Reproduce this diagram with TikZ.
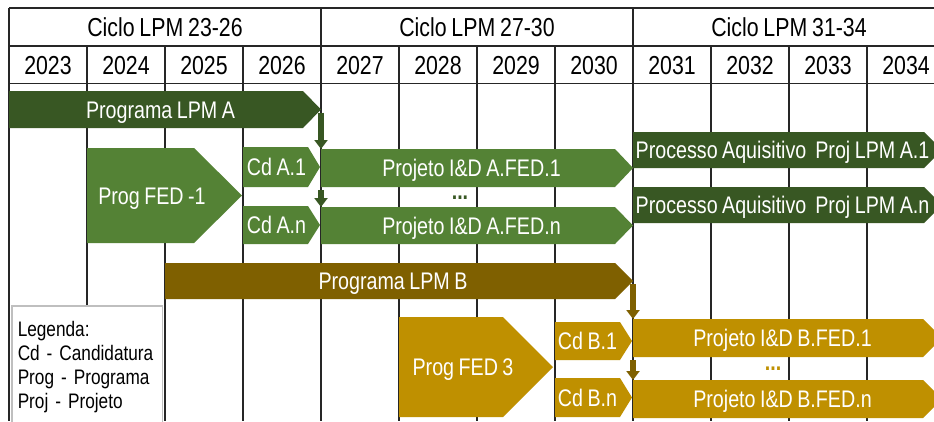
\documentclass[tikz,border=0pt]{standalone}
\usepackage{fontspec}
\setmainfont[FakeStretch=0.82, WordSpace=0.82]{Liberation Sans}
\usetikzlibrary{arrows.meta}

\definecolor{verdeesc}{HTML}{385723}
\definecolor{verde}{HTML}{548235}
\definecolor{castanho}{HTML}{7F6000}
\definecolor{ouro}{HTML}{BF9000}
\definecolor{grelha}{HTML}{262626}
\definecolor{cinza}{HTML}{BFBFBF}

\tikzset{
	linha/.style={draw=grelha, line width=1.4pt},
	cab/.style={font=\fontsize{26}{30}\selectfont, text height=18.6pt, text depth=0pt},
	% barra em seta: cor, comprimento da ponta
	barra/.style 2 args={rectangle, inner sep=0pt, outer sep=0pt, anchor=north west,
		text=white, font=\fontsize{24}{28}\selectfont, text height=17.2pt, text depth=0pt,
		path picture={\fill[#1] (path picture bounding box.north west)
			-- ([xshift=-#2]path picture bounding box.north east)
			-- (path picture bounding box.east)
			-- ([xshift=-#2]path picture bounding box.south east)
			-- (path picture bounding box.south west) -- cycle;}},
	desvio/.style={execute at begin node={\hspace*{#1}}},
	desce/.style={line width=5.5pt, -{Triangle[width=13pt,length=9pt]}, shorten <=3pt}
}

\begin{document}
\begin{tikzpicture}[x=1pt, y=-1pt]
		\useasboundingbox (0,0) rectangle (934,421);
		\fill[white] (0,0) rectangle (934,421);
		\clip (0,0) rectangle (934,421);
		
		% grelha dos anos
		\draw[linha] (9,8) -- (934,8) (9,46) -- (934,46) (9,83.5) -- (934,83.5);
		\foreach \x in {9,321,633}
			\draw[linha] (\x,8) -- (\x,421);
		\foreach \x in {87,165,243,399,477,555,711,789,867}
			\draw[linha] (\x,46) -- (\x,421);
		
		\node[cab] (ciclo1) at (165,27) {Ciclo LPM 23-26};
		\node[cab] (ciclo2) at (477,27) {Ciclo LPM 27-30};
		\node[cab] (ciclo3) at (789,27) {Ciclo LPM 31-34};
		\foreach \ano [count=\i from 0] in {2023,...,2034}
			\node[cab] (a\ano) at ({48+78*\i},65) {\ano};
		
		% programa A
		\node[barra={verdeesc}{18pt}, minimum width=312pt, minimum height=37pt, desvio=-9pt] (lpmA) at (9,91) {Programa LPM A};
		\node[barra={verde}{48pt}, minimum width=155pt, minimum height=95pt, desvio=-25pt] (fedA) at (87,148) {Prog FED -1};
		\node[barra={verde}{12pt}, minimum width=77pt, minimum height=40pt, desvio=-10pt] (cdA1) at (243,147) {Cd A.1};
		\node[barra={verde}{12pt}, minimum width=77pt, minimum height=38pt, desvio=-10pt] (cdAn) at (243,206) {Cd A.n};
		\node[barra={verde}{18pt}, minimum width=312pt, minimum height=38pt, desvio=-11pt] (projA1) at (321,149) {Projeto I\&D A.FED.1};
		\node[barra={verde}{18pt}, minimum width=312pt, minimum height=37pt, desvio=-11pt] (projAn) at (321,207) {Projeto I\&D A.FED.n};
		\node[barra={verdeesc}{18pt}, minimum width=309pt, minimum height=36pt, desvio=-10pt] (procA1) at (633,132) {Processo Aquisitivo~~Proj LPM A.1};
		\node[barra={verdeesc}{18pt}, minimum width=309pt, minimum height=36pt, desvio=-10pt] (procAn) at (633,187) {Processo Aquisitivo~~Proj LPM A.n};
		\node[font=\bfseries\fontsize{24}{28}\selectfont, text=verdeesc, anchor=base] (pontosA) at (460,199) {...};
		
		% programa B
		\node[barra={castanho}{18pt}, minimum width=468pt, minimum height=36pt, desvio=-12pt] (lpmB) at (165,263) {Programa LPM B};
		\node[barra={ouro}{50pt}, minimum width=154pt, minimum height=100pt, desvio=-26pt] (fedB) at (399,317) {Prog FED 3};
		\node[barra={ouro}{12pt}, minimum width=77pt, minimum height=38pt, desvio=-12pt] (cdB1) at (555,322) {Cd B.1};
		\node[barra={ouro}{12pt}, minimum width=77pt, minimum height=39pt, desvio=-12pt] (cdBn) at (555,378) {Cd B.n};
		\node[barra={ouro}{19pt}, minimum width=309pt, minimum height=38pt, desvio=-10pt] (projB1) at (633,319) {Projeto I\&D B.FED.1};
		\node[barra={ouro}{19pt}, minimum width=309pt, minimum height=38pt, desvio=-10pt] (projBn) at (633,380) {Projeto I\&D B.FED.n};
		\node[font=\bfseries\fontsize{24}{28}\selectfont, text=ouro, anchor=base] (pontosB) at (773,370) {...};
		
		\draw[desce, verdeesc] (lpmA.east) -- (projA1.north west);
		\draw[desce, verdeesc] (projA1.south west) -- (projAn.north west);
		\draw[desce, castanho] (lpmB.east) -- (projB1.north west);
		\draw[desce, castanho] (projB1.south west) -- (projBn.north west);
		
		\node[draw=cinza, line width=1.5pt, fill=white, anchor=north west, align=left,
			text width=138.5pt, inner xsep=6pt, inner ysep=16pt, text depth=110pt,
			font=\fontsize{21}{24}\selectfont] (legenda) at (11,305)
			{Legenda:\\Cd - Candidatura\\Prog - Programa\\Proj - Projeto};
	\end{tikzpicture}
\end{document}
